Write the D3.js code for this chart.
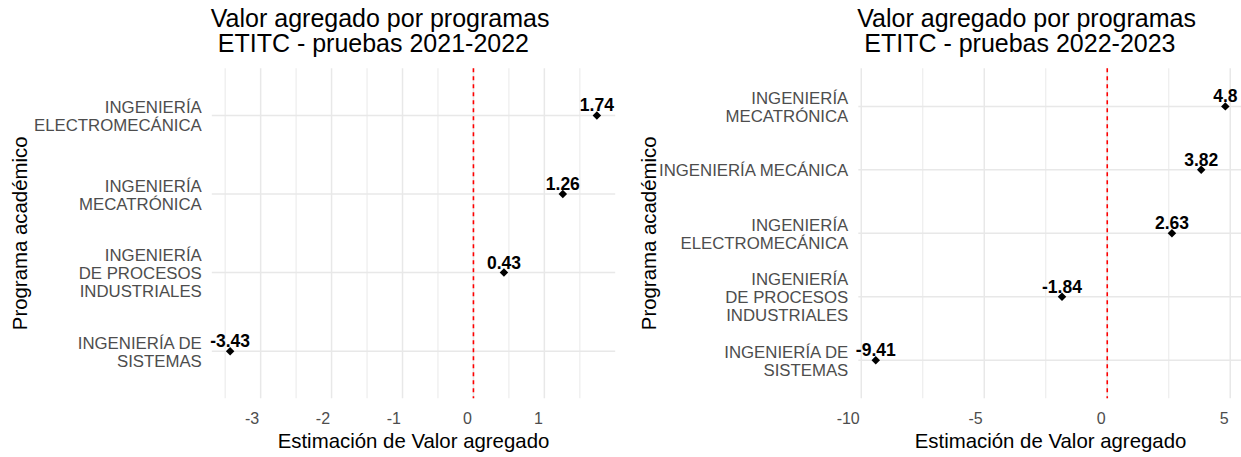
<!DOCTYPE html>
<html>
<head>
<meta charset="utf-8">
<script src="https://cdn.jsdelivr.net/npm/d3@7/dist/d3.min.js"></script>
<style>
  body { margin: 0; background: #fff; }
  svg text { font-family: "Liberation Sans", Arial, sans-serif; }
</style>
</head>
<body>
<svg id="chart" width="1241" height="457"></svg>
<script>
// Datos 2021-2022 (de arriba hacia abajo)
const programas2122 = ["INGENIERÍA\nELECTROMECÁNICA", "INGENIERÍA\nMECATRÓNICA", "INGENIERÍA\nDE PROCESOS\nINDUSTRIALES", "INGENIERÍA DE\nSISTEMAS"]
const valores2122 = [1.74, 1.26, 0.43, -3.43]
const ticks2122 = [-3, -2, -1, 0, 1]
const menores2122 = [-3.5, -2.5, -1.5, -0.5, 0.5, 1.5]

// Datos 2022-2023
const programas2223 = ["INGENIERÍA\nMECATRÓNICA", "INGENIERÍA MECÁNICA", "INGENIERÍA\nELECTROMECÁNICA", "INGENIERÍA\nDE PROCESOS\nINDUSTRIALES", "INGENIERÍA DE\nSISTEMAS"]
const valores2223 = [4.8, 3.82, 2.63, -1.84, -9.41]
const ticks2223 = [-10, -5, 0, 5]
const menores2223 = [-7.5, -2.5, 2.5]

const svg = d3.select("#chart")

const top0 = 68.3
const bottom0 = 398.3

dibujarPanel({
    programas: programas2122, valores: valores2122, ticks: ticks2122, menores: menores2122,
    x0: 211.8, x1: 615.2, tituloY: 27,
    titulo: ["Valor agregado por programas", " ETITC - pruebas 2021-2022"]
})

dibujarPanel({
    programas: programas2223, valores: valores2223, ticks: ticks2223, menores: menores2223,
    x0: 858.3, x1: 1242.8, tituloY: 656,
    titulo: ["Valor agregado por programas", " ETITC - pruebas 2022-2023"]
})

function dibujarPanel(cfg) {
    // expansion 5% como ggplot
    var ext = d3.extent(cfg.valores)
    var pad = (ext[1] - ext[0]) * 0.05

    const x = d3.scaleLinear().domain([ext[0] - pad, ext[1] + pad]).range([cfg.x0, cfg.x1])
    const y = d3.scalePoint().domain(cfg.programas).range([top0, bottom0]).padding(0.6)

    const g = svg.append("g")

    // grilla
    g.selectAll(".menor").data(cfg.menores).join("line")
        .attr("x1", d => x(d)).attr("x2", d => x(d))
        .attr("y1", top0).attr("y2", bottom0)
        .attr("stroke", "#ebebeb").attr("stroke-width", 1.1)

    g.selectAll(".mayor").data(cfg.ticks).join("line")
        .attr("x1", d => x(d)).attr("x2", d => x(d))
        .attr("y1", top0).attr("y2", bottom0)
        .attr("stroke", "#e8e8e8").attr("stroke-width", 1.5)

    g.selectAll(".hor").data(cfg.programas).join("line")
        .attr("x1", cfg.x0).attr("x2", cfg.x1)
        .attr("y1", d => y(d)).attr("y2", d => y(d))
        .attr("stroke", "#e8e8e8").attr("stroke-width", 1.5)

    // linea en cero
    g.append("line")
        .attr("x1", x(0)).attr("x2", x(0))
        .attr("y1", top0).attr("y2", bottom0)
        .attr("stroke", "#ff0000").attr("stroke-width", 1.6)
        .attr("stroke-dasharray", "4,4")

    // ticks eje x
    g.selectAll(".tick").data(cfg.ticks).join("text")
        .attr("x", d => x(d) - 1.5)
        .attr("y", 424.3)
        .attr("text-anchor", "end")
        .style("font-size", "16px")
        .attr("fill", "#4d4d4d")
        .text(d => d)

    // etiquetas eje y
    g.selectAll(".ylab").data(cfg.programas).join("text")
        .attr("text-anchor", "end")
        .style("font-size", "16.8px")
        .attr("fill", "#4d4d4d")
        .each(function (d) {
            var lineas = d.split("\n")
            var n = lineas.length
            d3.select(this).selectAll("tspan").data(lineas).join("tspan")
                .attr("x", cfg.x0 - 10)
                .attr("y", (l, i) => y(d) + (i - (n - 1) / 2) * 18 + 6.5)
                .text(l => l)
        })

    // puntos
    g.selectAll(".punto").data(cfg.valores).join("path")
        .attr("d", d3.symbol(d3.symbolSquare, 36))
        .attr("transform", (d, i) => `translate(${x(d)},${y(cfg.programas[i])}) rotate(45)`)
        .attr("fill", "#000")

    // valores
    g.selectAll(".valor").data(cfg.valores).join("text")
        .attr("x", d => x(d))
        .attr("y", (d, i) => y(cfg.programas[i]) - 4)
        .attr("text-anchor", "middle")
        .style("font-size", "17.5px")
        .style("font-weight", "bold")
        .attr("fill", "#000")
        .text(d => d)

    // titulos de ejes
    g.append("text")
        .attr("x", (cfg.x0 + cfg.x1) / 2)
        .attr("y", 448.3)
        .attr("text-anchor", "middle")
        .style("font-size", "20.4px")
        .attr("fill", "#000")
        .text("Estimación de Valor agregado")

    g.append("text")
        .attr("transform", `translate(${cfg.tituloY},${(top0 + bottom0) / 2}) rotate(-90)`)
        .attr("text-anchor", "middle")
        .style("font-size", "20.4px")
        .attr("fill", "#000")
        .text("Programa académico")

    // titulo
    g.append("text")
        .style("font-size", "25px")
        .style("white-space", "pre")
        .attr("fill", "#000")
        .selectAll("tspan").data(cfg.titulo).join("tspan")
        .attr("x", cfg.x0 - 1)
        .attr("y", (d, i) => 26.7 + i * 25)
        .text(d => d)
}
</script>
</body>
</html>
